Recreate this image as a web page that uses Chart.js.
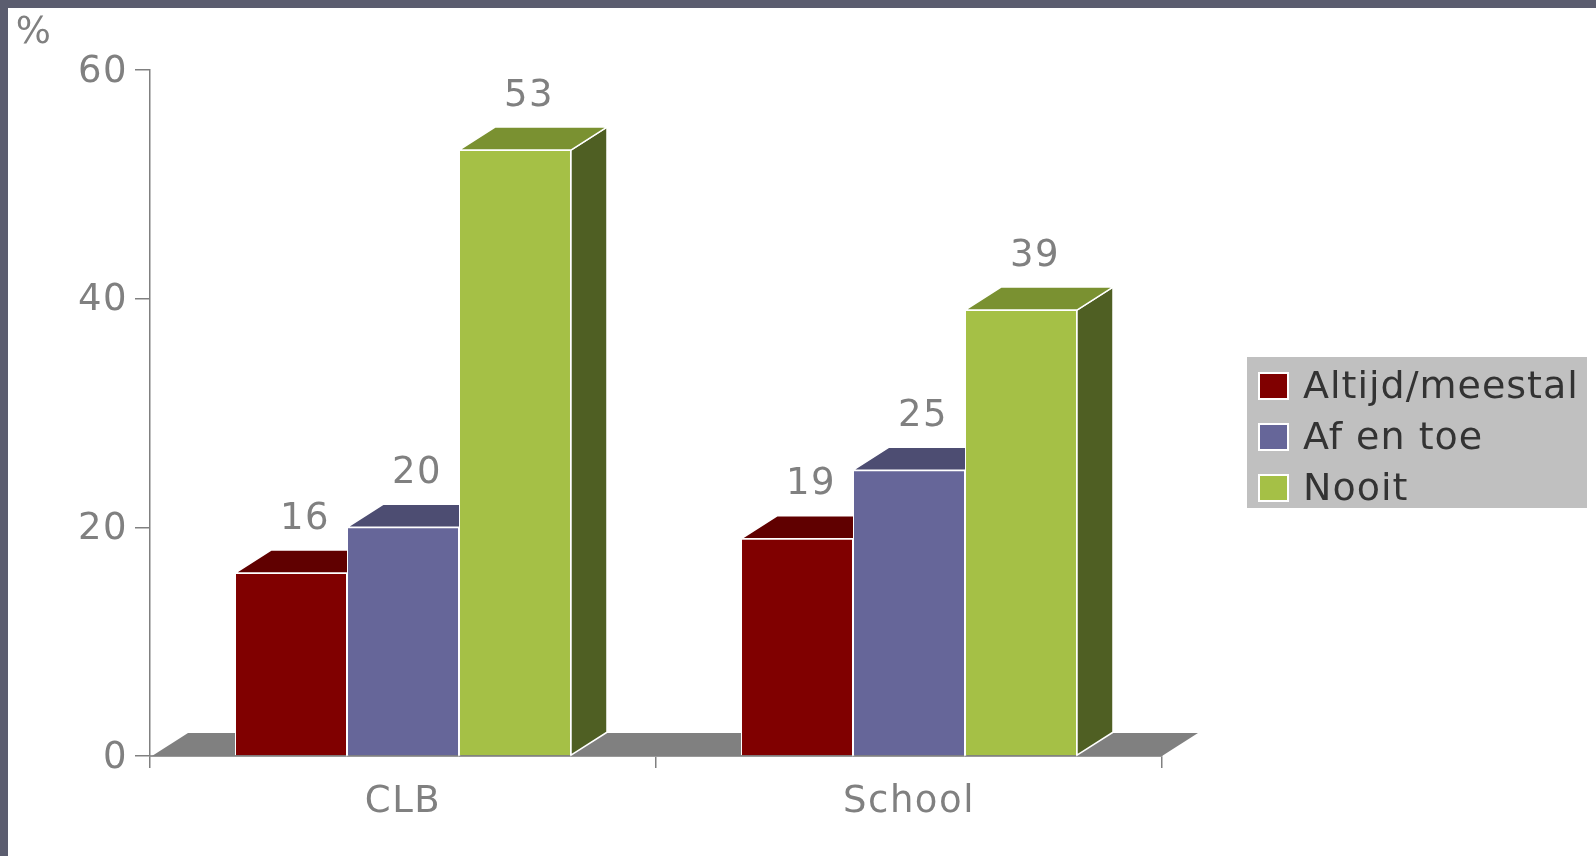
<!DOCTYPE HTML>
<html>
<head>
<meta charset="utf-8">
<title>CLB / School</title>
<script src="https://cdn.jsdelivr.net/npm/chart.js@4.4.1/dist/chart.umd.min.js"></script>
<style>
    html, body { margin: 0; padding: 0; background: #5b5d6f; width: 1596px; height: 856px; overflow: hidden; }
    .chartContainer { position: absolute; left: 8px; top: 8px; width: 1588px; height: 848px; background: #fff; }
</style>
</head>
<body>
<div class="chartContainer">
    <canvas id="chart" width="1588" height="848"></canvas>
</div>
<script>
const categories = ['CLB', 'School'];
const seriesNames = ['Altijd/meestal', 'Af en toe', 'Nooit'];
const altijdValues = [16, 19];
const afEnToeValues = [20, 25];
const nooitValues = [53, 39];
const yTicks = [0, 20, 40, 60];

const frontColors = ['#800000', '#666699', '#a5c046'];
const topColors = ['#600000', '#4d4d72', '#7a9131'];
const sideColors = ['#4a0000', '#3e3e5e', '#4f5f23'];
const depthX = 36;
const depthY = 23;
const grey = '#808080';
const fontFamily = '"DejaVu Sans", Verdana, sans-serif';

const bar3d = {
    id: 'bar3d',
    beforeDraw(chart) {
        // wider letter spacing like the original Verdana text
        chart.ctx.letterSpacing = '1.5px';
    },
    beforeDatasetsDraw(chart) {
        const ctx = chart.ctx;
        const area = chart.chartArea;
        const y0 = chart.scales.y.getPixelForValue(0);
        ctx.save();
        // floor
        ctx.fillStyle = grey;
        ctx.beginPath();
        ctx.moveTo(area.left + 2, y0);
        ctx.lineTo(area.right, y0);
        ctx.lineTo(area.right + depthX, y0 - depthY);
        ctx.lineTo(area.left + 2 + depthX, y0 - depthY);
        ctx.closePath();
        ctx.fill();
        ctx.strokeStyle = '#ffffff';
        ctx.lineWidth = 1.5;
        chart.data.datasets.forEach((ds, i) => {
            const meta = chart.getDatasetMeta(i);
            meta.data.forEach(el => {
                const p = el.getProps(['x', 'y', 'width', 'base'], true);
                const left = p.x - p.width / 2;
                const right = p.x + p.width / 2;
                // side
                ctx.fillStyle = sideColors[i];
                ctx.beginPath();
                ctx.moveTo(right, p.y);
                ctx.lineTo(right + depthX, p.y - depthY);
                ctx.lineTo(right + depthX, p.base - depthY);
                ctx.lineTo(right, p.base);
                ctx.closePath();
                ctx.fill();
                ctx.stroke();
                // top
                ctx.fillStyle = topColors[i];
                ctx.beginPath();
                ctx.moveTo(left, p.y);
                ctx.lineTo(right, p.y);
                ctx.lineTo(right + depthX, p.y - depthY);
                ctx.lineTo(left + depthX, p.y - depthY);
                ctx.closePath();
                ctx.fill();
                ctx.stroke();
            });
        });
        ctx.restore();
    },
    afterDatasetsDraw(chart) {
        const ctx = chart.ctx;
        ctx.save();
        ctx.font = '37px ' + fontFamily;
        ctx.fillStyle = grey;
        ctx.textAlign = 'center';
        ctx.textBaseline = 'middle';
        chart.data.datasets.forEach((ds, i) => {
            chart.getDatasetMeta(i).data.forEach((el, j) => {
                const p = el.getProps(['x', 'y'], true);
                ctx.fillText(String(ds.data[j]), p.x + depthX / 2 - 4, p.y - depthY - 31);
            });
        });
        ctx.restore();
    },
    afterDraw(chart) {
        const ctx = chart.ctx;
        ctx.save();
        // unit label
        ctx.font = '37px ' + fontFamily;
        ctx.fillStyle = grey;
        ctx.textAlign = 'center';
        ctx.textBaseline = 'middle';
        ctx.fillText('%', 26, 25);
        // legend
        ctx.fillStyle = '#c0c0c0';
        ctx.fillRect(1239, 349, 340, 151);
        ctx.textAlign = 'left';
        ctx.letterSpacing = '1px';
        chart.data.datasets.forEach((ds, i) => {
            const cy = 378 + i * 51;
            ctx.fillStyle = ds.backgroundColor;
            ctx.fillRect(1251, cy - 13, 29, 26);
            ctx.strokeStyle = '#ffffff';
            ctx.lineWidth = 2;
            ctx.strokeRect(1251, cy - 13, 29, 26);
            ctx.fillStyle = '#333333';
            ctx.font = '38px ' + fontFamily;
            ctx.fillText(ds.label, 1295, cy + 2);
        });
        ctx.restore();
    }
};

const seriesValues = [altijdValues, afEnToeValues, nooitValues];

new Chart(document.getElementById('chart').getContext('2d'), {
    type: 'bar',
    data: {
        labels: categories,
        datasets: seriesNames.map((name, i) => ({
            label: name,
            data: seriesValues[i],
            backgroundColor: frontColors[i],
            borderColor: '#ffffff',
            borderWidth: 1,
            borderSkipped: 'bottom',
            categoryPercentage: 0.664,
            barPercentage: 1
        }))
    },
    options: {
        animation: false,
        responsive: false,
        layout: { padding: { top: 62, right: 434, left: 0, bottom: 0 } },
        plugins: {
            legend: { display: false },
            tooltip: { enabled: false }
        },
        scales: {
            x: {
                afterFit(scale) { scale.height = 100; },
                grid: {
                    offset: true,
                    drawOnChartArea: false,
                    tickLength: 12,
                    color: grey,
                    lineWidth: 1.5
                },
                border: { color: '#999999', width: 2 },
                ticks: {
                    color: grey,
                    padding: 12,
                    font: { family: fontFamily, size: 37 }
                }
            },
            y: {
                min: 0,
                max: 60,
                afterFit(scale) { scale.width = 142; },
                afterBuildTicks(scale) { scale.ticks = yTicks.map(v => ({ value: v })); },
                grid: {
                    drawOnChartArea: false,
                    tickLength: 15,
                    color: grey,
                    lineWidth: 1.5
                },
                border: { color: grey, width: 1.5 },
                ticks: {
                    color: grey,
                    padding: 7,
                    labelOffset: 2,
                    font: { family: fontFamily, size: 37 }
                }
            }
        }
    },
    plugins: [bar3d]
});
</script>
</body>
</html>
